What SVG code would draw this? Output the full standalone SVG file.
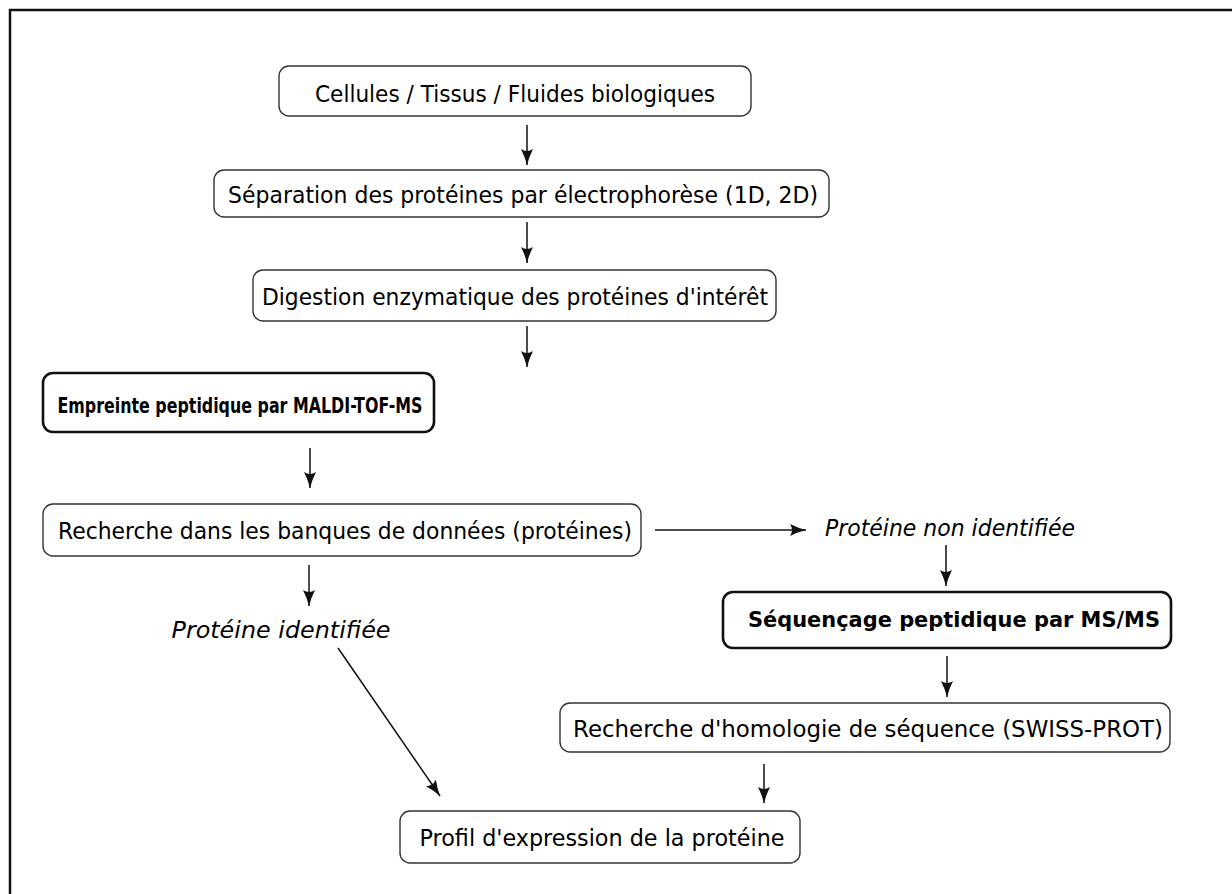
<svg xmlns="http://www.w3.org/2000/svg" width="1232" height="894" viewBox="0 0 1232 894">
<style>
.box{fill:#fff;stroke:#333;stroke-width:1.4}
.bold{fill:#fff;stroke:#111;stroke-width:2.6}
.t{font-family:"DejaVu Sans","Liberation Sans",sans-serif;font-size:23px;fill:#000;text-anchor:middle;dominant-baseline:central}
.tb{font-family:"DejaVu Sans","Liberation Sans",sans-serif;font-size:22px;font-weight:bold;fill:#000;text-anchor:middle;dominant-baseline:central}
.tb2{font-family:"DejaVu Sans Condensed","Liberation Sans",sans-serif;font-size:22px;font-weight:bold;fill:#000;text-anchor:middle;dominant-baseline:central}
.ti{font-family:"DejaVu Sans","Liberation Sans",sans-serif;font-size:23px;font-style:italic;fill:#000;text-anchor:middle;dominant-baseline:central}
.c{stroke:#111;stroke-width:1.5;fill:none;marker-end:url(#ah)}
</style>
<defs>
<marker id="ah" markerUnits="userSpaceOnUse" markerWidth="18" markerHeight="14" refX="16" refY="6" orient="auto">
<path d="M0,0 Q8,4 16,6 Q8,8 0,12 Q4,6 0,0 z" fill="#111"/>
</marker>
</defs>
<rect width="1232" height="894" fill="#fff"/>
<path d="M10,894 L10,10 L1232,10" fill="none" stroke="#111" stroke-width="2.5"/>

<g id="n1"><rect class="box" x="279" y="66" width="472" height="50" rx="10"/><text class="t" x="515" y="94" textLength="400" lengthAdjust="spacingAndGlyphs">Cellules / Tissus / Fluides biologiques</text></g>
<g id="n2"><rect class="box" x="214" y="170" width="615" height="47" rx="10"/><text class="t" x="523" y="195" textLength="590" lengthAdjust="spacingAndGlyphs">Séparation des protéines par électrophorèse (1D, 2D)</text></g>
<g id="n3"><rect class="box" x="253" y="270" width="523" height="51" rx="10"/><text class="t" x="515" y="297" textLength="506" lengthAdjust="spacingAndGlyphs">Digestion enzymatique des protéines d'intérêt</text></g>
<g id="n4"><rect class="bold" x="43" y="373" width="391" height="59" rx="10"/><text class="tb2" x="240" y="405" textLength="365" lengthAdjust="spacingAndGlyphs">Empreinte peptidique par MALDI-TOF-MS</text></g>
<g id="n5"><rect class="box" x="43" y="504" width="598" height="52" rx="10"/><text class="t" x="345" y="531" textLength="574" lengthAdjust="spacingAndGlyphs">Recherche dans les banques de données (protéines)</text></g>
<g id="l1"><text class="ti" x="950" y="528" textLength="250" lengthAdjust="spacingAndGlyphs">Protéine non identifiée</text></g>
<g id="l2"><text class="ti" x="281" y="630" textLength="219" lengthAdjust="spacingAndGlyphs">Protéine identifiée</text></g>
<g id="n6"><rect class="bold" x="723" y="592" width="448" height="56" rx="10"/><text class="tb" x="954" y="619" textLength="412" lengthAdjust="spacingAndGlyphs">Séquençage peptidique par MS/MS</text></g>
<g id="n7"><rect class="box" x="560" y="703" width="610" height="49" rx="10"/><text class="t" x="868" y="729" textLength="590" lengthAdjust="spacingAndGlyphs">Recherche d'homologie de séquence (SWISS-PROT)</text></g>
<g id="n8"><rect class="box" x="400" y="811" width="400" height="52" rx="10"/><text class="t" x="602" y="838" textLength="365" lengthAdjust="spacingAndGlyphs">Profil d'expression de la protéine</text></g>

<g id="connectors">
<line class="c" x1="527" y1="125" x2="527" y2="165"/>
<line class="c" x1="527" y1="222" x2="527" y2="263"/>
<line class="c" x1="527" y1="326" x2="527" y2="367"/>
<line class="c" x1="310" y1="448" x2="310" y2="488"/>
<line class="c" x1="309" y1="565" x2="309" y2="606"/>
<line class="c" x1="655" y1="530" x2="806" y2="530"/>
<line class="c" x1="946" y1="545" x2="946" y2="586"/>
<line class="c" x1="947" y1="656" x2="947" y2="697"/>
<line class="c" x1="764" y1="764" x2="764" y2="803"/>
<line class="c" x1="338" y1="648" x2="440" y2="796"/>
</g>
</svg>
